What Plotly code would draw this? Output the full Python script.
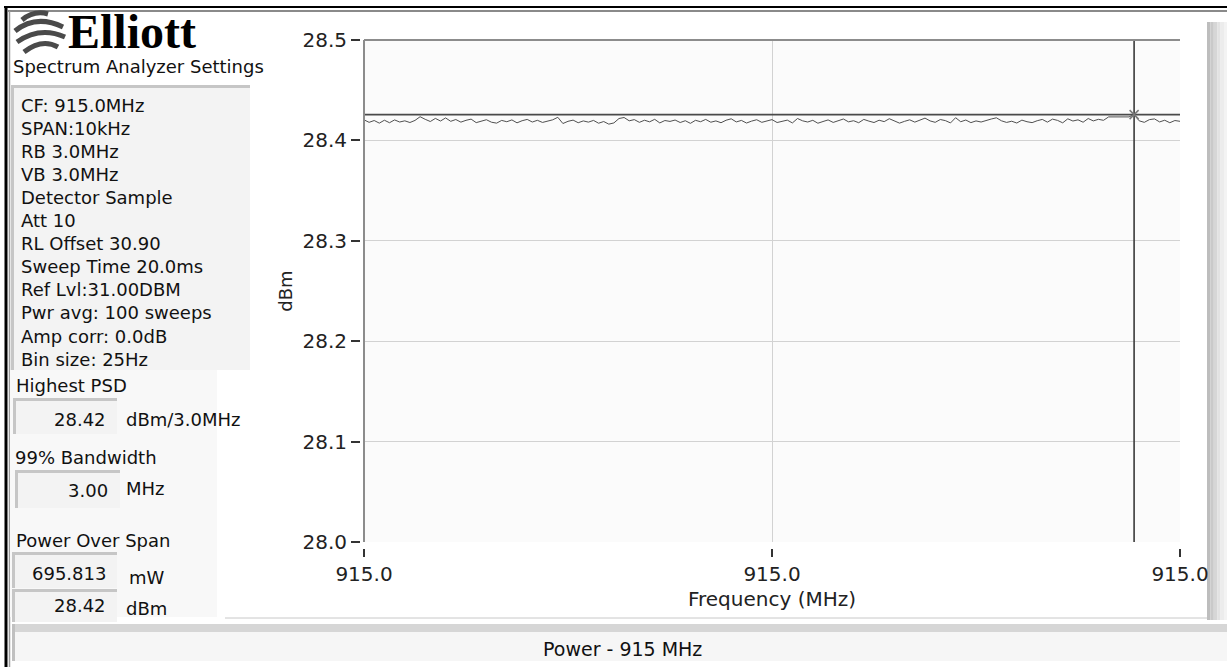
import plotly.graph_objects as go

W, H = 1227, 667

# ---------------- data ----------------
center_freq_mhz = 915.0
span_mhz = 0.010
power_dbm = [
    28.4205, 28.4180, 28.4198, 28.4172, 28.4201, 28.4176, 28.4204, 28.4183, 28.4195, 28.4178,
    28.4199, 28.4236, 28.4210, 28.4188, 28.4219, 28.4193, 28.4224, 28.4190, 28.4208, 28.4182,
    28.4200, 28.4212, 28.4177, 28.4193, 28.4206, 28.4181, 28.4172, 28.4199, 28.4186, 28.4204,
    28.4175, 28.4196, 28.4209, 28.4183, 28.4200, 28.4179, 28.4191, 28.4205, 28.4230, 28.4168,
    28.4190, 28.4202, 28.4176, 28.4194, 28.4182, 28.4199, 28.4171, 28.4188, 28.4162, 28.4174,
    28.4218, 28.4228, 28.4195, 28.4207, 28.4180, 28.4201, 28.4185, 28.4210, 28.4174, 28.4198,
    28.4189, 28.4203, 28.4178, 28.4196, 28.4170, 28.4200, 28.4186, 28.4209, 28.4181, 28.4194,
    28.4176, 28.4201, 28.4215, 28.4184, 28.4199, 28.4173, 28.4192, 28.4206, 28.4180, 28.4197,
    28.4207, 28.4178, 28.4190, 28.4202, 28.4174, 28.4218, 28.4195, 28.4183, 28.4200, 28.4171,
    28.4188, 28.4204, 28.4179, 28.4198, 28.4213, 28.4185, 28.4196, 28.4176, 28.4209, 28.4192,
    28.4178, 28.4201, 28.4187, 28.4216, 28.4195, 28.4172, 28.4190, 28.4205, 28.4182, 28.4199,
    28.4222, 28.4194, 28.4180, 28.4208, 28.4197, 28.4174, 28.4226, 28.4186, 28.4203, 28.4177,
    28.4194, 28.4183, 28.4200, 28.4213, 28.4225, 28.4195, 28.4179, 28.4191, 28.4173, 28.4202,
    28.4186, 28.4177, 28.4196, 28.4209, 28.4182, 28.4212, 28.4199, 28.4175, 28.4215, 28.4193,
    28.4205, 28.4181, 28.4218, 28.4194, 28.4210, 28.4200, 28.4234, 28.4234, 28.4234, 28.4234,
    28.4234, 28.4257, 28.4195, 28.4180, 28.4207, 28.4214, 28.4184, 28.4201, 28.4176, 28.4198,
    28.4190,
]
x_tick_vals = [914.995, 915.0, 915.005]
y_tick_vals = [28.0, 28.1, 28.2, 28.3, 28.4, 28.5]
y_range = [28.0, 28.5]
settings_lines = [
    "CF: 915.0MHz", "SPAN:10kHz", "RB 3.0MHz", "VB 3.0MHz", "Detector Sample",
    "Att 10", "RL Offset 30.90", "Sweep Time 20.0ms", "Ref Lvl:31.00DBM",
    "Pwr avg: 100 sweeps", "Amp corr: 0.0dB", "Bin size: 25Hz",
]
highest_psd = "28.42"
psd_unit = "dBm/3.0MHz"
bandwidth_99 = "3.00"
bandwidth_unit = "MHz"
power_over_span_mw = "695.813"
power_over_span_dbm = "28.42"
chart_title = "Power - 915 MHz"

# ---------------- derived ----------------
n = len(power_dbm)
f_lo = center_freq_mhz - span_mhz / 2
f_hi = center_freq_mhz + span_mhz / 2
freq_mhz = [f_lo + i * span_mhz / (n - 1) for i in range(n)]
peak_i = max(range(n), key=lambda i: power_dbm[i])
marker_f = freq_mhz[peak_i]
marker_p = power_dbm[peak_i]


def fx(x):
    return x / W


def fy(y):
    return 1 - y / H


FONT = "DejaVu Sans"
shapes = []
annotations = []


def rect(x0, y0, x1, y1, fill, layer="below"):
    shapes.append(dict(type="rect", xref="paper", yref="paper",
                       x0=fx(x0), x1=fx(x1), y0=fy(y1), y1=fy(y0),
                       fillcolor=fill, line=dict(width=0), layer=layer))


def line(x0, y0, x1, y1, color, width, layer="below"):
    shapes.append(dict(type="line", xref="paper", yref="paper",
                       x0=fx(x0), x1=fx(x1), y0=fy(y0), y1=fy(y1),
                       line=dict(color=color, width=width), layer=layer))


def text(x, y, s, size=18, anchor="left", color="#111", family=FONT):
    annotations.append(dict(xref="paper", yref="paper", x=fx(x), y=fy(y), text=s,
                            showarrow=False, xanchor=anchor, yanchor="middle",
                            font=dict(family=family, size=size, color=color)))


def bevel_box(x0, y0, x1, y1):
    rect(x0, y0, x1, y1, "#f3f3f3")
    line(x0, y0 + 1.5, x1, y0 + 1.5, "#c6c6c6", 3)
    line(x0 + 1.5, y0, x0 + 1.5, y1, "#c6c6c6", 3)


# outer frame
line(4, 7, W, 7, "#000", 2)
line(8, 11, W, 11, "#8a8a8a", 2)
line(6, 7, 6, H, "#000", 3)
line(9.5, 11, 9.5, H, "#9a9a9a", 1.5)

# left panel backgrounds
rect(10, 370, 217, 617, "#f8f8f8")
bevel_box(11, 85, 250, 370)
bevel_box(13, 398, 117, 434)
bevel_box(15, 470, 120, 508)
bevel_box(12, 552, 117, 588)
bevel_box(12, 589, 117, 622)

# plot panel bottom edge, bottom title bar, right scroll bar
line(225, 618, 1207, 618, "#c8c8c8", 1)
rect(12, 624, W, 632, "#d6d6d6")
rect(12, 632, W, 661, "#f6f6f6")
line(13.5, 624, 13.5, 661, "#c0c0c0", 3)
grad = ["#bdbdbd", "#c9c9c9", "#d6d6d6", "#e2e2e2", "#ececec", "#f3f3f3"]
for k, c in enumerate(grad):
    rect(1207 + k * 3.4, 22, 1207 + (k + 1) * 3.4, 620, c)

# plot border (top + left)
line(364, 40, 1180, 40, "#8c8c8c", 2, layer="above")
line(364, 40, 364, 542, "#8c8c8c", 2, layer="above")

# logo swoosh
swoosh = [
    ((22, 20), (34, 10), (48, 14)),
    ((15, 31), (36, 14), (63, 27)),
    ((17, 42), (40, 26), (65, 37)),
    ((24, 52), (42, 38), (58, 47)),
]
for (a, b, c) in swoosh:
    path = "M {},{} Q {},{} {},{}".format(fx(a[0]), fy(a[1]), fx(b[0]), fy(b[1]), fx(c[0]), fy(c[1]))
    shapes.append(dict(type="path", xref="paper", yref="paper", path=path,
                       line=dict(color="#4a4a4a", width=5), layer="below"))
text(66, 31, "<b>Elliott</b>", size=48, family="Liberation Serif", color="#000")

# left panel text
text(11, 66, "Spectrum Analyzer Settings", size=18)
for k, s in enumerate(settings_lines):
    text(19, 105 + k * 23.1, s, size=18)
text(14, 385, "Highest PSD", size=18)
text(108, 419, highest_psd, size=18, anchor="right")
text(124, 419, psd_unit, size=18)
text(13, 457, "99% Bandwidth", size=18)
text(110, 490, bandwidth_99, size=18, anchor="right")
text(124, 488, bandwidth_unit, size=18)
text(14, 540, "Power Over Span", size=18)
text(108, 573, power_over_span_mw, size=18, anchor="right")
text(127, 577, "mW", size=18)
text(108, 605, power_over_span_dbm, size=18, anchor="right")
text(124, 608, "dBm", size=18)
text(622, 649, chart_title, size=19)
annotations[-1]["xanchor"] = "center"

fig = go.Figure()
fig.add_trace(go.Scatter(x=freq_mhz, y=power_dbm, mode="lines",
                         line=dict(color="#505050", width=1), hoverinfo="skip"))
fig.add_trace(go.Scatter(x=[marker_f, marker_f], y=y_range, mode="lines",
                         line=dict(color="#3a3a3a", width=1.6), hoverinfo="skip"))
fig.add_trace(go.Scatter(x=[f_lo, f_hi], y=[marker_p, marker_p], mode="lines",
                         line=dict(color="#4a4a4a", width=1.6), hoverinfo="skip"))
fig.add_trace(go.Scatter(x=[marker_f], y=[marker_p], mode="markers", cliponaxis=False,
                         marker=dict(symbol="x-thin-open", size=9, color="#7a7a7a",
                                     line=dict(color="#7a7a7a", width=1.5)),
                         hoverinfo="skip"))

tickfont = dict(family=FONT, size=20, color="#222")
fig.update_layout(
    template="none",
    width=W, height=H, autosize=False,
    margin=dict(l=0, r=0, t=0, b=0, pad=0),
    paper_bgcolor="#ffffff", plot_bgcolor="#fbfbfb",
    showlegend=False,
    shapes=shapes, annotations=annotations,
    xaxis=dict(domain=[fx(364), fx(1180)], range=[f_lo, f_hi], anchor="free",
               position=fy(548), tickvals=x_tick_vals, tickformat=".1f",
               ticks="outside", ticklen=8, tickwidth=2, tickcolor="#333",
               showline=False, zeroline=False, showgrid=True, automargin=False,
               gridcolor="#d2d2d2", gridwidth=1, tickfont=tickfont,
               title=dict(text="Frequency (MHz)", font=dict(family=FONT, size=20, color="#222"),
                          standoff=6)),
    yaxis=dict(domain=[fy(542), fy(40)], range=y_range, anchor="free",
               position=fx(360), tickvals=y_tick_vals, tickformat=".1f",
               ticks="outside", ticklen=9, tickwidth=2, tickcolor="#333",
               showline=False, zeroline=False, showgrid=True, automargin=False,
               gridcolor="#d2d2d2", gridwidth=1, tickfont=tickfont,
               title=dict(text="dBm", font=dict(family=FONT, size=18, color="#222"),
                          standoff=4)),
)

fig.write_html("out.html")
